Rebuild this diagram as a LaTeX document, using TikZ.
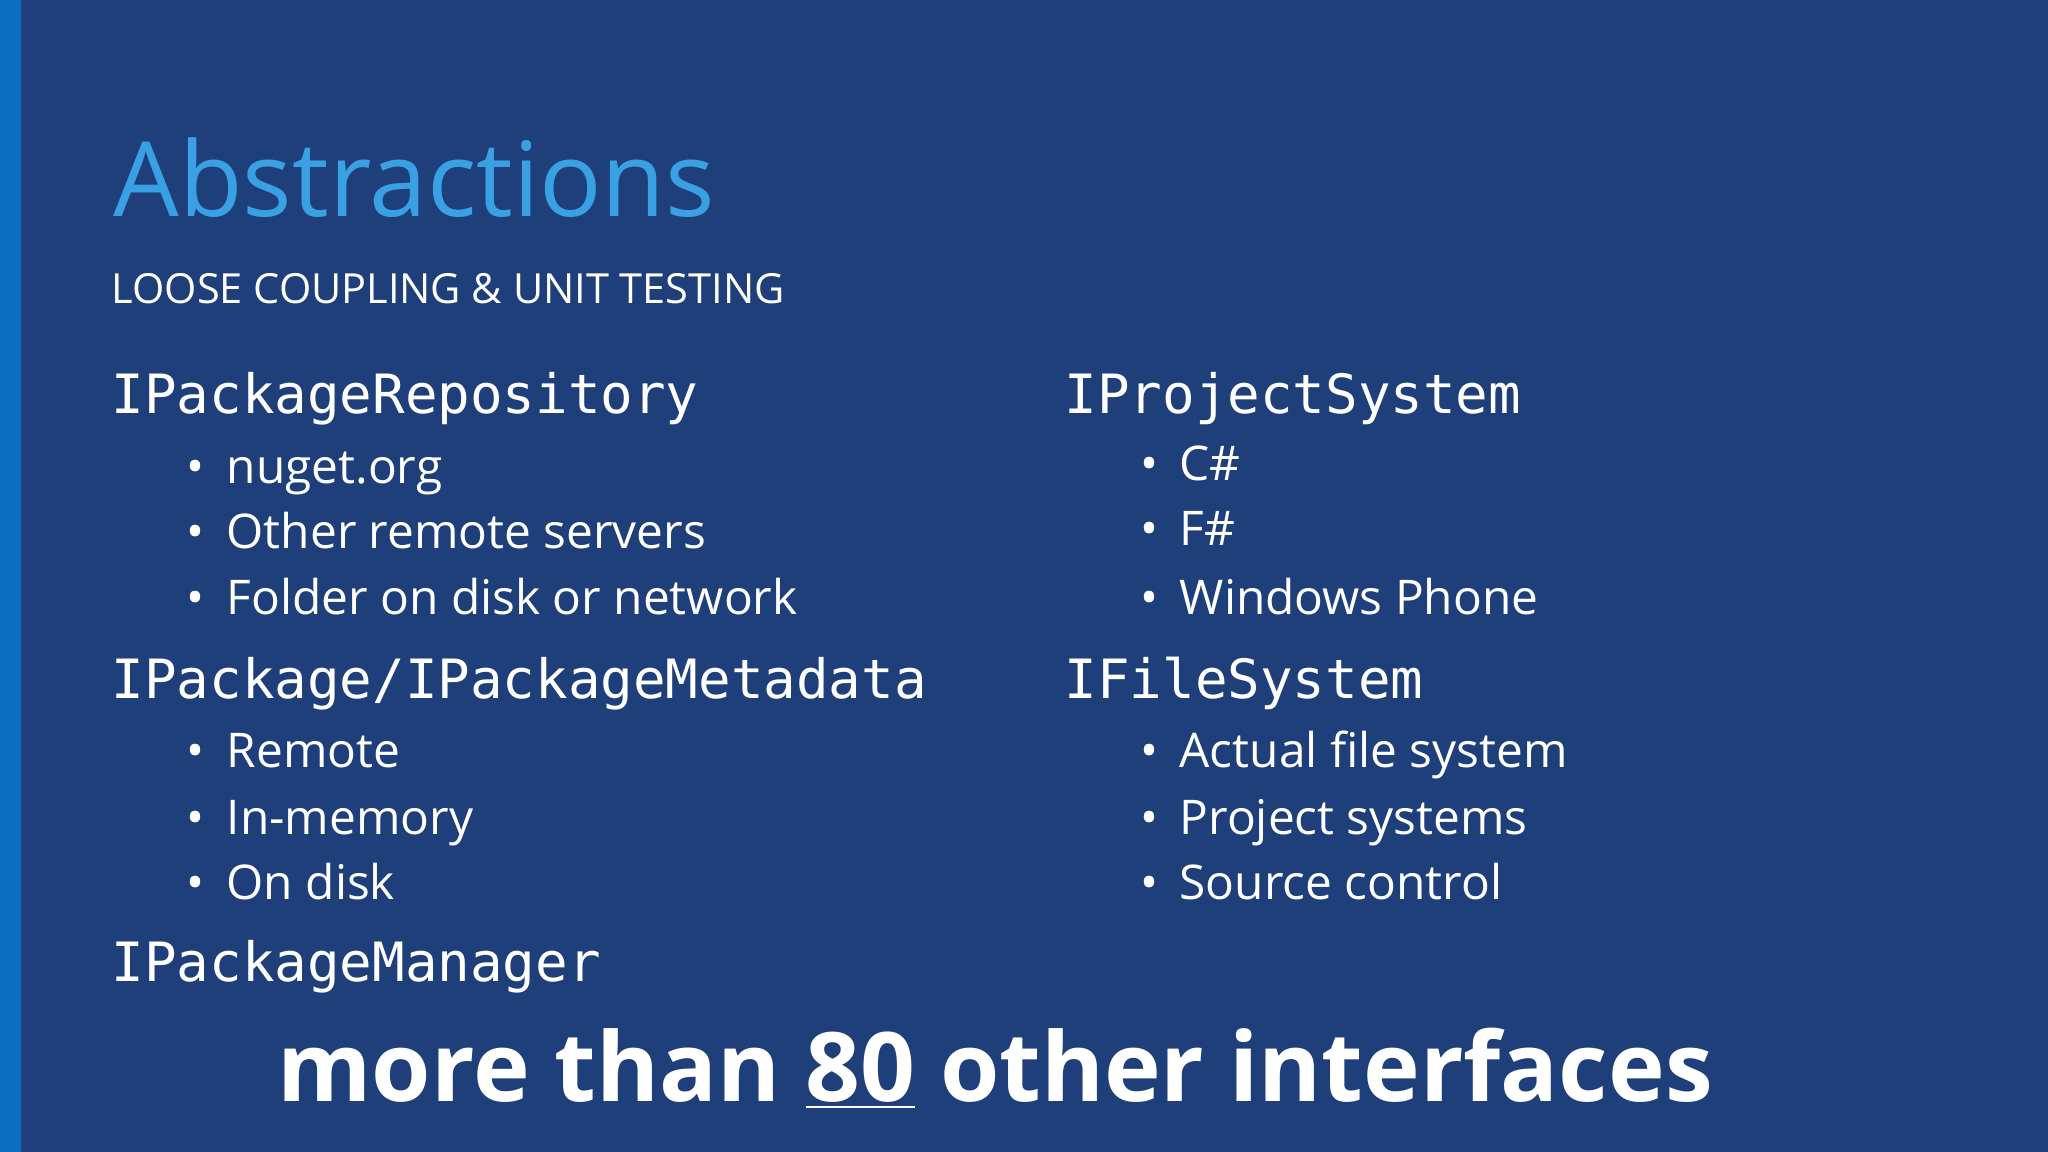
\documentclass[tikz,border=0pt]{standalone}
\usepackage{fontspec}
\setmainfont{Open Sans}
\setmonofont{DejaVu Sans Mono}
\definecolor{bg}{HTML}{1F3F7B}
\definecolor{stripe}{HTML}{0A6FC2}
\definecolor{ttl}{HTML}{3AA0E4}
\begin{document}
\begin{tikzpicture}[x=0.01cm,y=-0.01cm,
  txt/.style={anchor=base west,inner sep=0,text=white},
  head/.style={txt,font=\fontsize{15.4}{18}\ttfamily},
  item/.style={txt,font=\fontsize{13.6}{18}\selectfont},
  dot/.style={txt,font=\fontsize{13.6}{18}\selectfont}]
\useasboundingbox (0,0) rectangle (2048,1152);
\fill[bg] (0,0) rectangle (2048,1152);
\fill[stripe] (0,0) rectangle (21,1152);
\node[txt,text=ttl,font=\fontsize{29.5}{36}\selectfont] (title) at (113,217) {Abstractions};
\node[txt,font=\fontsize{11.8}{16}\selectfont] (sub) at (111,304) {LOOSE COUPLING \& UNIT TESTING};
% left column
\node[head] (h1) at (111,414) {IPackageRepository};
\node[dot] (d1) at (186,484) {•}; \node[item] (i1) at (226,484) {nuget.org};
\node[dot] (d2) at (186,549) {•}; \node[item] (i2) at (226,549) {Other remote servers};
\node[dot] (d3) at (186,614) {•}; \node[item] (i3) at (226,614) {Folder on disk or network};
\node[head] (h2) at (111,698) {IPackage/IPackageMetadata};
\node[dot] (d4) at (186,767) {•}; \node[item] (i4) at (226,767) {Remote};
\node[dot] (d5) at (186,834) {•}; \node[item] (i5) at (226,834) {In-memory};
\node[dot] (d6) at (186,899) {•}; \node[item] (i6) at (226,899) {On disk};
\node[head] (h3) at (111,981) {IPackageManager};
% right column
\node[head] (h4) at (1064,414) {IProjectSystem};
\node[dot] (d7) at (1140,481) {•}; \node[item] (i7) at (1179,481) {C\#};
\node[dot] (d8) at (1140,546) {•}; \node[item] (i8) at (1179,546) {F\#};
\node[dot] (d9) at (1140,614) {•}; \node[item] (i9) at (1179,614) {Windows Phone};
\node[head] (h5) at (1064,698) {IFileSystem};
\node[dot] (d10) at (1140,767) {•}; \node[item] (i10) at (1179,767) {Actual file system};
\node[dot] (d11) at (1140,834) {•}; \node[item] (i11) at (1179,834) {Project systems};
\node[dot] (d12) at (1140,899) {•}; \node[item] (i12) at (1179,899) {Source control};
% bottom
\node[txt,font=\fontsize{27.3}{32}\bfseries] (more) at (277,1101) {more than \underline{80} other interfaces};
\end{tikzpicture}
\end{document}
